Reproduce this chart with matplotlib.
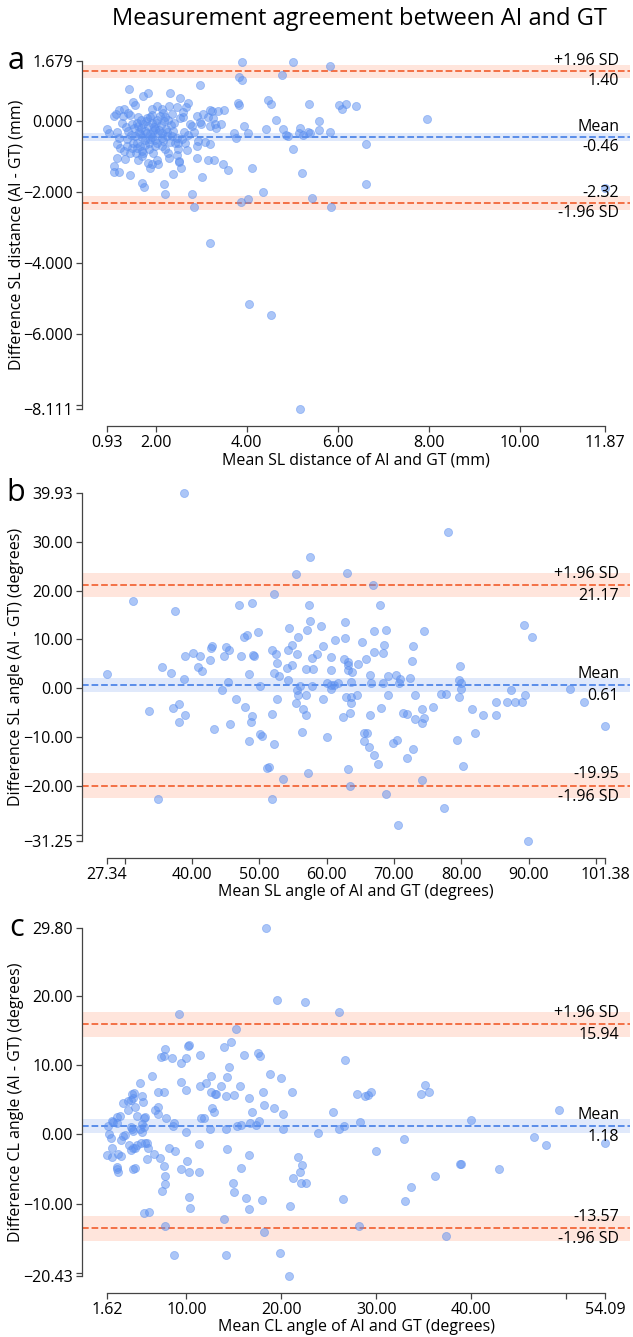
import matplotlib.pyplot as plt
import matplotlib.transforms as transforms

plt.rcParams['font.family'] = ['Open Sans', 'DejaVu Sans']

title = 'Measurement agreement between AI and GT'

# ---- panel a: SL distance (mm)
a_x = [1.41, 1.84, 1.73, 2.31, 2.98, 1.50, 1.55, 2.71, 2.66, 2.30, 2.46, 2.13, 2.04, 1.91, 1.31, 1.19,
       1.13, 1.08, 1.40, 1.44, 1.29, 1.62, 1.68, 1.80, 1.88, 1.93, 2.09, 2.20, 2.28, 2.17, 2.53, 2.60,
       2.90, 3.04, 3.19, 3.37, 3.26, 3.14, 2.97, 2.79, 2.75, 0.93, 0.97, 1.15, 1.19, 1.40, 1.55, 1.66,
       1.77, 1.84, 1.73, 1.62, 1.91, 1.98, 1.88, 2.06, 2.13, 2.24, 2.35, 2.46, 2.17, 1.37, 1.51, 1.66,
       1.69, 1.73, 1.58, 1.48, 1.44, 1.15, 1.16, 1.33, 1.08, 1.09, 1.19, 1.43, 1.98, 1.95, 1.84, 1.91,
       2.02, 2.06, 1.88, 2.20, 2.31, 2.50, 2.57, 2.50, 2.68, 2.51, 2.52, 2.39, 2.55, 1.69, 1.74, 2.19,
       2.20, 2.90, 3.02, 2.90, 2.93, 3.09, 3.19, 3.14, 3.28, 3.48, 3.59, 4.11, 2.79, 3.00, 3.19, 3.30,
       3.44, 3.33, 3.73, 3.77, 3.93, 4.02, 4.42, 4.64, 4.46, 4.53, 3.80, 3.84, 3.51, 3.24, 2.53,
       3.90, 5.02, 5.82, 3.83, 3.90, 4.77, 5.37, 6.02, 6.18, 6.40, 6.09, 7.96, 5.58, 5.58, 5.82, 4.79,
       4.86, 4.91, 5.18, 5.14, 5.23, 5.35, 5.39, 5.01, 5.22, 5.44, 5.86, 6.62, 6.62, 11.87, 2.85, 3.20,
       4.36, 4.03, 3.87, 4.06, 4.53, 5.17,
       1.52, 1.58, 1.63, 1.70, 1.76, 1.81, 1.86, 1.92, 1.96, 2.00, 2.04, 2.08, 2.11, 2.15, 2.22, 2.26,
       2.33, 2.38, 2.42, 1.46, 1.34, 1.27, 1.22, 1.30, 1.49, 1.60, 1.67, 1.79, 1.85, 1.99, 2.02, 2.14,
       2.18, 1.71, 1.77, 1.88, 1.94, 1.57, 1.62, 1.38, 2.27, 2.40, 2.62, 2.70, 2.85, 2.64, 2.46, 2.30,
       2.59, 2.36]
a_y = [0.91, 0.80, 0.71, 0.80, 1.02, 0.53, 0.44, 0.50, 0.39, 0.41, 0.38, 0.34, 0.41, 0.34, 0.34, 0.32,
       0.20, 0.15, 0.22, 0.18, 0.13, 0.10, 0.04, 0.08, 0.11, 0.18, 0.13, 0.10, 0.04, 0.22, 0.08, 0.11,
       0.13, 0.20, 0.30, 0.27, 0.08, 0.11, -0.04, -0.13, -0.08, -0.24, -0.34, -0.31, -0.48, -0.29, -0.43, -0.38,
       -0.29, -0.15, -0.10, -0.15, -0.06, -0.24, -0.38, -0.34, -0.48, -0.43, -0.43, -0.48, -0.57, -0.52, -0.62, -0.71,
       -0.85, -0.90, -0.76, -0.76, -0.90, -0.66, -1.04, -1.06, -1.27, -1.44, -1.44, -1.53, -0.54, -0.90, -1.18, -1.22,
       -1.10, -1.22, -1.34, -0.80, -0.60, -0.62, -0.52, -0.80, -0.83, -1.13, -1.17, -1.50, -1.34, -1.74, -1.85, -1.78,
       -2.06, -1.04, -1.58, -0.71, -0.57, -0.60, -0.66, -1.10, -1.10, -1.22, -1.38, -1.32, -2.06, -0.10, -0.13, -0.10,
       -0.08, -0.20, -0.34, -0.48, -0.13, -0.34, -0.24, 0.04, 0.60, 0.48, 0.50, 0.46, 0.32, 0.27, 0.64,
       1.67, 1.67, 1.55, 1.25, 1.14, 1.30, 0.49, 0.45, 0.48, 0.41, 0.33, 0.05, 0.00, -0.25, -0.30, -0.22,
       -0.40, -0.42, -0.20, -0.34, -0.39, -0.31, -0.35, -0.78, -1.48, -2.16, -2.42, -0.65, -1.78, -1.90, -2.42, -3.44,
       -1.99, -2.19, -2.29, -5.16, -5.47, -8.111,
       -0.20, -0.05, -0.30, -0.45, -0.55, -0.35, -0.62, -0.45, -0.18, -0.05, -0.62, -0.25, -0.12, -0.70, -0.22, -0.30,
       -0.12, -0.28, -0.62, -0.40, -0.18, -0.05, -0.75, -0.85, -0.08, -0.62, -0.20, 0.00, -0.80, -0.72, 0.02, -0.35,
       0.00, -1.00, -0.68, -0.52, -0.28, -0.90, -1.10, -0.70, -0.90, -0.05, -0.30, -0.40, -0.30, -0.62, -0.95, -1.05,
       0.25, 0.20]
a_mean, a_upper, a_lower = -0.46, 1.40, -2.32
a_ci_mean, a_ci_loa = 0.11, 0.19
a_xticks = [0.93, 2, 4, 6, 8, 10, 11.87]
a_xticklabels = ['0.93', '2.00', '4.00', '6.00', '8.00', '10.00', '11.87']
a_yticks = [1.679, 0, -2, -4, -6, -8, -8.111]
a_yticklabels = ['1.679', '0.000', '\u22122.000', '\u22124.000', '\u22126.000', '', '\u22128.111']
a_xlabel = 'Mean SL distance of AI and GT (mm)'
a_ylabel = 'Difference SL distance (AI - GT) (mm)'

# ---- panel b: SL angle (degrees)
b_x = [38.73, 78.05, 57.52, 63.03, 55.43, 66.92, 52.24, 31.25, 37.47, 46.98, 48.9, 57.35, 68.0, 57.59, 62.73,
       89.3, 90.5, 54.4, 59.1, 57.1, 67.0, 68.8, 74.4, 49.8, 48.2, 47.7, 55.8, 62.7, 61.3, 65.2, 68.5, 72.9,
       54.8, 59.5, 42.9, 42.8, 45.1, 45.5, 51.9, 52.4, 54.2, 55.6, 67.0, 68.4, 40.2, 39.0, 41.2, 47.2, 49.1,
       49.2, 44.8, 57.8, 58.6, 60.7, 62.6, 65.9, 63.1, 63.1, 64.7, 72.7, 79.8, 52.6, 54.9, 54.1, 42.7, 40.9,
       35.6, 56.9, 58.0,
       27.34, 36.9, 41.4, 38.8, 48.4, 45.3, 44.5, 50.1, 52.2, 52.9, 54.3, 56.1, 55.6, 55.8, 57.8, 60.0, 60.6,
       60.7, 61.1, 61.7, 60.6, 63.1, 63.8, 63.6, 62.9, 63.6, 63.6, 64.5, 63.4, 66.4, 66.6, 68.3, 69.1, 70.3,
       70.9, 70.7, 69.1, 72.4, 73.2, 73.1, 71.4, 71.9, 66.4, 68.1, 74.2, 74.2, 74.5, 75.8, 77.0, 77.7, 79.6,
       79.7, 79.9, 80.0, 81.6, 83.3, 85.2, 85.2, 86.8, 87.4, 88.0, 89.0, 89.5, 96.2, 98.2, 101.38, 89.9,
       70.6, 77.4, 68.8, 63.4, 51.9, 35.0, 53.5, 74.2, 63.1, 57.3, 51.2, 51.5, 80.2, 67.6, 67.0, 71.9, 72.9,
       66.3, 65.5, 66.0, 65.6, 69.9, 70.4, 79.3, 82.1, 60.0, 56.4, 52.2, 50.1, 50.4, 48.4, 43.2, 45.7, 48.7,
       48.9, 47.9, 46.5, 51.9, 52.6, 55.4, 56.5, 56.9, 56.9, 59.5, 62.4, 38.1, 39.0, 38.0, 37.2, 33.6]
b_y = [39.93, 32.1, 26.8, 23.7, 23.4, 21.2, 19.3, 17.9, 15.8, 17.1, 17.5, 17.0, 17.1, 13.8, 13.5,
       12.9, 10.4, 12.3, 12.7, 11.9, 11.7, 12.0, 11.7, 11.5, 10.9, 10.4, 10.4, 10.3, 9.9, 9.4, 8.9, 8.6,
       8.8, 8.6, 8.6, 8.3, 8.4, 7.9, 7.8, 7.0, 7.9, 7.0, 7.5, 7.2, 7.3, 6.6, 6.6, 6.5, 6.9,
       6.5, 6.5, 6.1, 7.0, 6.3, 6.0, 6.0, 5.3, 4.8, 5.0, 5.6, 4.6, 5.2, 4.8, 4.1, 5.7, 4.4,
       4.4, 4.0, 4.0,
       3.0, 3.1, 3.5, 1.8, 3.0, 1.3, -0.3, 0.4, 3.1, 2.4, 1.6, 0.4, -0.3, -1.4, 0.4, 1.0, 0.6,
       -0.1, 0.6, 1.0, 3.7, 3.7, 3.3, 1.2, -1.8, -1.8, -3.0, -1.4, -5.0, 2.7, 1.1, 1.0, 2.4, 2.8,
       1.8, 1.0, -1.4, 2.1, -1.4, -6.4, -5.0, -5.2, -5.5, -4.1, -4.3, -7.2, -6.2, -3.8, -1.1, -1.2, -1.8,
       1.6, -0.1, 1.0, -4.3, -5.4, -2.9, -5.4, -2.8, -0.3, -2.8, -2.8, -1.4, -0.1, -2.9, -7.8, -31.25,
       -28.1, -24.5, -21.7, -20.1, -22.7, -22.7, -18.6, -18.9, -16.6, -17.3, -16.4, -16.2, -16.0, -15.6, -13.7, -14.4, -12.4,
       -12.1, -10.8, -9.1, -9.1, -11.3, -10.6, -10.6, -9.2, -10.1, -9.0, -11.4, -9.4, -9.8, -10.8, -8.4, -7.3, -6.9,
       -5.7, -3.8, -2.3, -5.3, -2.3, -3.0, -4.2, -5.4, -1.3, -2.3, -5.9, -6.9, -5.5, -3.3, -4.0, -4.6]
b_mean, b_upper, b_lower = 0.61, 21.17, -19.95
b_ci_mean, b_ci_loa = 1.4, 2.5
b_xticks = [27.34, 30, 40, 50, 60, 70, 80, 90, 100, 101.38]
b_xticklabels = ['27.34', '', '40.00', '50.00', '60.00', '70.00', '80.00', '90.00', '', '101.38']
b_yticks = [39.93, 30, 20, 10, 0, -10, -20, -30, -31.25]
b_yticklabels = ['39.93', '30.00', '20.00', '10.00', '0.00', '\u221210.00', '\u221220.00', '', '\u221231.25']
b_xlabel = 'Mean SL angle of AI and GT (degrees)'
b_ylabel = 'Difference SL angle (AI - GT) (degrees)'

# ---- panel c: CL angle (degrees)
c_x = [18.38, 19.49, 22.46, 26.11, 9.26, 15.25, 14.74, 7.69, 10.15, 10.3, 13.94, 17.54, 17.79, 16.09, 11.47,
       7.31, 7.6, 8.5, 9.93, 9.38, 26.71, 14.53, 6.42, 12.57, 14.31, 18.77, 20.0, 5.14, 9.42, 12.05, 11.47,
       13.67, 15.63, 9.93, 6.97, 7.6, 4.46, 12.61, 12.99, 13.1, 15.0, 14.15, 18.09, 21.1, 28.0, 28.8, 29.07,
       29.42, 34.73, 35.5, 35.07, 4.29, 4.42, 4.16, 3.87, 3.36, 5.27, 5.4, 4.59, 3.8, 3.02, 6.68, 7.05, 7.05,
       7.86, 4.84, 5.57, 2.15, 12.69, 12.9, 16.86, 18.17, 19.19, 20.2, 16.6, 25.39, 49.24, 11.8, 11.5, 40.0,
       28.25, 17.66,
       1.75, 1.83, 2.26, 2.08, 1.62, 2.15, 2.15, 2.8, 3.14, 2.68, 2.68, 2.76, 2.72, 2.72, 3.14, 3.31, 3.52,
       3.91, 4.12, 4.12, 4.29, 4.37, 4.42, 4.63, 4.33, 4.59, 4.76, 5.14, 5.27, 5.52, 5.31, 5.66, 5.87, 5.91,
       5.82, 5.22, 5.61, 5.48, 6.03, 6.63, 7.18, 7.4, 7.69, 7.73, 7.65, 7.73, 8.2, 8.58, 8.71, 8.71, 8.8,
       9.38, 9.93, 10.02, 10.23, 10.23, 10.36, 11.29, 11.29, 12.44, 13.97, 14.14, 14.22, 14.14, 14.86, 14.99,
       15.32, 15.75, 15.75, 16.29, 16.56, 16.6, 16.69, 17.28, 17.92, 18.13, 19.83, 20.13, 20.77, 20.9, 21.24,
       21.79, 21.92, 22.13, 22.04, 22.55, 23.9, 26.1, 26.6, 26.5, 28.2, 30.0, 32.9, 33.0, 33.6, 36.2, 37.3,
       38.8, 38.9, 42.9, 46.6, 47.9, 54.09]
c_y = [29.80, 19.4, 19.1, 17.7, 17.4, 15.2, 13.4, 12.4, 12.8, 12.9, 12.6, 11.8, 11.4, 11.5, 11.5,
       11.2, 11.4, 11.1, 11.0, 10.3, 10.7, 9.8, 8.5, 8.5, 8.3, 8.7, 8.2, 7.4, 7.6, 7.5, 7.0,
       7.0, 7.0, 6.4, 6.1, 6.1, 6.0, 6.2, 5.9, 5.8, 5.7, 5.5, 6.1, 6.2, 5.9, 5.5, 5.7,
       6.2, 5.9, 6.2, 7.2, 5.8, 5.2, 5.0, 4.9, 4.5, 5.5, 4.7, 3.9, 3.5, 2.7, 3.5, 3.9, 3.0,
       2.4, 2.6, 2.4, 2.0, 3.8, 3.2, 3.2, 4.3, 3.8, 3.0, 5.3, 3.3, 3.6, 2.4, 2.3, 2.1,
       1.8, 2.0,
       1.2, 0.0, 1.8, -0.5, -3.0, -3.2, -1.9, -2.9, -3.1, -4.7, -5.0, -5.4, 2.5, 1.6, -0.8, -0.2, -0.1,
       -1.6, -2.2, 1.1, 0.8, 0.5, -1.9, -1.9, -5.0, -4.9, -1.6, 0.8, 0.4, 1.1, 1.5, -1.2, -1.3, -1.9,
       -3.5, -1.2, 2.5, -11.3, -11.2, -2.8, -3.4, -8.2, -7.2, -6.0, -4.5, -13.3, -1.9, 1.2, 1.7, -17.5, -2.4,
       -5.0, 0.4, -3.8, -5.4, -9.1, -10.6, -5.4, -1.4, 0.8, -12.3, -17.5, -2.1, 0.8, -7.0, -8.4,
       1.2, 1.3, -4.8, -9.2, -10.8, -3.0, 1.7, 1.4, -9.5, -14.1, -17.2, 0.8, -20.43, -10.4, -6.3,
       -3.3, -5.4, -4.4, -7.0, -7.0, 0.2, 0.8, 1.2, -9.3, -13.2, -2.4, -0.6, -9.7, -7.6, -6.0, -14.7,
       -4.3, -4.3, -5.0, -0.4, -1.6, -1.2]
c_mean, c_upper, c_lower = 1.18, 15.94, -13.57
c_ci_mean, c_ci_loa = 1.0, 1.8
c_xticks = [1.62, 10, 20, 30, 40, 50, 54.09]
c_xticklabels = ['1.62', '10.00', '20.00', '30.00', '40.00', '', '54.09']
c_yticks = [29.80, 20, 10, 0, -10, -20, -20.43]
c_yticklabels = ['29.80', '20.00', '10.00', '0.00', '\u221210.00', '', '\u221220.43']
c_xlabel = 'Mean CL angle of AI and GT (degrees)'
c_ylabel = 'Difference CL angle (AI - GT) (degrees)'

panels = [
    ('a', a_x, a_y, a_mean, a_upper, a_lower, a_ci_mean, a_ci_loa,
     a_xticks, a_xticklabels, a_yticks, a_yticklabels, a_xlabel, a_ylabel),
    ('b', b_x, b_y, b_mean, b_upper, b_lower, b_ci_mean, b_ci_loa,
     b_xticks, b_xticklabels, b_yticks, b_yticklabels, b_xlabel, b_ylabel),
    ('c', c_x, c_y, c_mean, c_upper, c_lower, c_ci_mean, c_ci_loa,
     c_xticks, c_xticklabels, c_yticks, c_yticklabels, c_xlabel, c_ylabel),
]

point_color = '#5b8ff0'
mean_color = '#4f86e8'
loa_color = '#f2673a'
band_loa = '#ff7f50'
band_mean = '#6495ed'

fig = plt.figure(figsize=(6.33, 13.37), dpi=100)
W, H = 633, 1337
tops = [44, 476, 911]
ax_h = 382
left, right = 82, 630

for (tag, xs, ys, m, up, lo, cim, cil, xt, xtl, yt, ytl, xl, yl), top in zip(panels, tops):
    ax = fig.add_axes([left / W, 1 - (top + ax_h) / H, (right - left) / W, ax_h / H])

    ax.axhspan(up - cil, up + cil, color=band_loa, alpha=0.2, lw=0, zorder=0)
    ax.axhspan(lo - cil, lo + cil, color=band_loa, alpha=0.2, lw=0, zorder=0)
    ax.axhspan(m - cim, m + cim, color=band_mean, alpha=0.2, lw=0, zorder=0)
    ax.axhline(up, color=loa_color, ls='--', lw=1.3, zorder=1)
    ax.axhline(lo, color=loa_color, ls='--', lw=1.3, zorder=1)
    ax.axhline(m, color=mean_color, ls='--', lw=1.3, zorder=1)

    ax.scatter(xs, ys, s=34, color=point_color, alpha=0.5, linewidths=0.6, zorder=2)

    x0, x1 = min(xt), max(xt)
    y0, y1 = min(yt), max(yt)
    ax.set_xlim(x0 - 0.05 * (x1 - x0), x1 + 0.05 * (x1 - x0))
    ax.set_ylim(y0 - 0.05 * (y1 - y0), y1 + 0.05 * (y1 - y0))
    ax.set_xticks(xt)
    ax.set_xticklabels(xtl)
    ax.set_yticks(yt)
    ax.set_yticklabels(ytl)
    ax.tick_params(labelsize=11.5, color='#444444', length=4, width=0.9, pad=2.5)

    for s in ['top', 'right']:
        ax.spines[s].set_visible(False)
    ax.spines['left'].set_bounds(y0, y1)
    ax.spines['bottom'].set_bounds(x0, x1)
    for s in ['left', 'bottom']:
        ax.spines[s].set_color('#444444')
        ax.spines[s].set_linewidth(0.9)

    ax.set_xlabel(xl, fontsize=11.5, labelpad=1)
    ax.set_ylabel(yl, fontsize=11.5)
    ax.yaxis.set_label_coords(-0.105, 0.5)

    trans = transforms.blended_transform_factory(ax.transAxes, ax.transData)
    off = (up - lo) / 100 * 1.5
    ax.text(0.98, up + off, '+1.96 SD', ha='right', va='bottom', fontsize=11.5, transform=trans)
    ax.text(0.98, up - off, '%.2f' % up, ha='right', va='top', fontsize=11.5, transform=trans)
    ax.text(0.98, m + off, 'Mean', ha='right', va='bottom', fontsize=11.5, transform=trans)
    ax.text(0.98, m - off, '%.2f' % m, ha='right', va='top', fontsize=11.5, transform=trans)
    ax.text(0.98, lo + off, '%.2f' % lo, ha='right', va='bottom', fontsize=11.5, transform=trans)
    ax.text(0.98, lo - off, '-1.96 SD', ha='right', va='top', fontsize=11.5, transform=trans)

    ax.text(-0.12, y1, tag, ha='center', va='center', fontsize=22, transform=trans)

fig.text(359 / W, 1 - 19 / H, title, ha='center', va='center', fontsize=17)

fig.savefig('out.png', dpi=100)
